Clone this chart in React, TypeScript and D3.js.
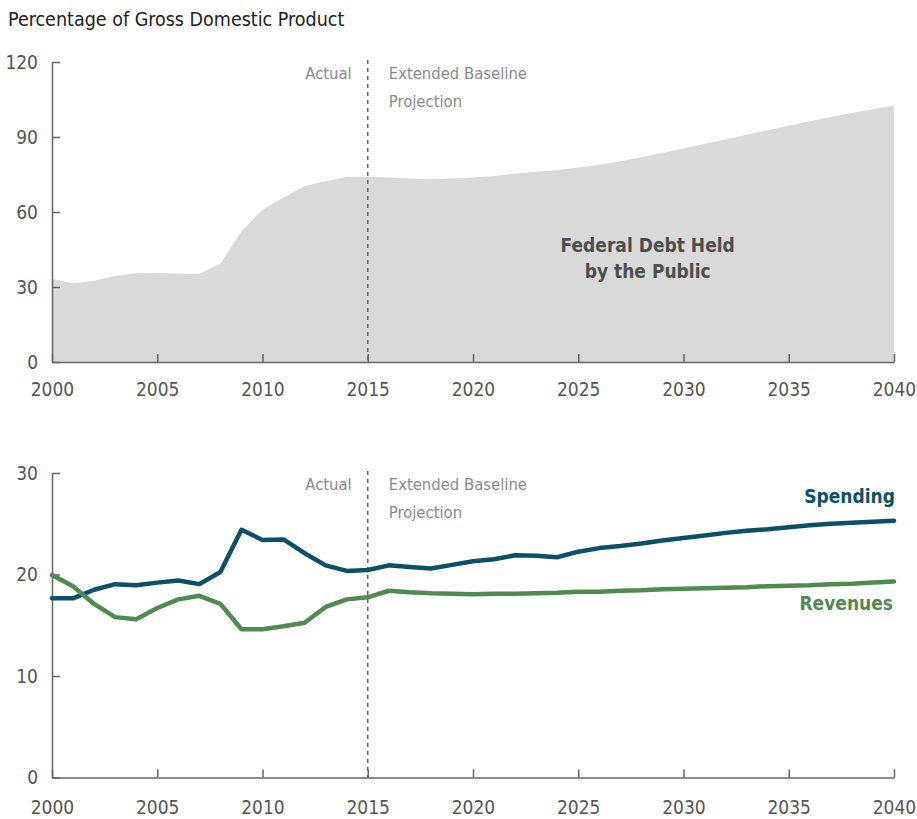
import React, { useEffect, useRef } from 'react';
import * as d3 from 'd3';

// Years shared by both panels
const years: number[] = d3.range(2000, 2041);

// Federal debt held by the public, % of GDP
const debt: number[] = [
  33.3, 31.4, 32.5, 34.4, 35.5, 35.6, 35.3, 35.2, 39.4, 52.3,
  60.9, 65.8, 70.4, 72.3, 74.1, 74.1, 73.8, 73.4, 73.1, 73.4,
  73.8, 74.4, 75.3, 76.1, 76.8, 77.8, 78.9, 80.3, 81.9, 83.6,
  85.4, 87.2, 89.0, 90.9, 92.7, 94.5, 96.3, 98.0, 99.6, 101.1,
  102.5,
];

// Outlays, % of GDP
const spending: number[] = [
  17.65, 17.65, 18.5, 19.05, 18.95, 19.2, 19.4, 19.05, 20.25, 24.4,
  23.4, 23.45, 22.1, 20.9, 20.35, 20.45, 20.9, 20.75, 20.6, 20.95,
  21.3, 21.5, 21.9, 21.85, 21.7, 22.25, 22.6, 22.8, 23.05, 23.35,
  23.6, 23.85, 24.1, 24.3, 24.45, 24.65, 24.85, 25.0, 25.1, 25.2,
  25.3,
];

// Revenues, % of GDP
const revenues: number[] = [
  19.95, 18.85, 17.1, 15.8, 15.6, 16.7, 17.55, 17.9, 17.1, 14.6,
  14.6, 14.9, 15.25, 16.8, 17.55, 17.75, 18.4, 18.25, 18.15, 18.1,
  18.05, 18.1, 18.1, 18.15, 18.2, 18.3, 18.3, 18.4, 18.45, 18.55,
  18.6, 18.65, 18.7, 18.75, 18.85, 18.9, 18.95, 19.05, 19.1, 19.2,
  19.3,
];

const xTicks: number[] = [2000, 2005, 2010, 2015, 2020, 2025, 2030, 2035, 2040];
const debtTicks: number[] = [0, 30, 60, 90, 120];
const budgetTicks: number[] = [0, 10, 20, 30];
const splitYear = 2015;

const FONT = "'DejaVu Sans Condensed', 'DejaVu Sans', sans-serif";
const AXIS = '#666';

const App: React.FC = () => {
  const svgRef = useRef<SVGSVGElement>(null);

  useEffect(() => {
    if (!svgRef.current) return;
    const svg = d3.select(svgRef.current);
    svg.selectAll('*').remove();

    const width = 917;
    const height = 819;
    svg.attr('width', width).attr('height', height).style('font-family', FONT);

    const x = d3.scaleLinear().domain([2000, 2040]).range([52, 894]);
    const yTop = d3.scaleLinear().domain([0, 120]).range([362, 62]);
    const yBot = d3.scaleLinear().domain([0, 30]).range([777.5, 473]);

    // Title
    svg.append('text')
      .attr('x', 8)
      .attr('y', 26)
      .style('font-size', '19.5px')
      .style('fill', '#222')
      .text('Percentage of Gross Domestic Product');

    const styleAxis = (g: d3.Selection<SVGGElement, unknown, null, undefined>) => {
      g.select('.domain').attr('stroke', AXIS).attr('stroke-width', 1.5);
      g.selectAll('.tick line').attr('stroke', AXIS).attr('stroke-width', 1.5);
      g.selectAll('.tick text')
        .style('font-size', '19px')
        .style('font-family', FONT)
        .attr('fill', '#555');
    };

    const drawAxes = (y: d3.ScaleLinear<number, number>, yTicks: number[], labelPad: number) => {
      const [y0] = y.range();
      const gx = svg.append('g')
        .attr('transform', `translate(0,${y0})`)
        .call(d3.axisBottom(x).tickValues(xTicks).tickFormat(d3.format('d')).tickSize(-8).tickSizeOuter(0).tickPadding(labelPad));
      gx.call(styleAxis);

      const gy = svg.append('g')
        .attr('transform', `translate(${x(2000)},0)`)
        .call(d3.axisLeft(y).tickValues(yTicks).tickSize(-8).tickSizeOuter(0).tickPadding(14));
      gy.call(styleAxis);
    };

    const drawSplit = (y: d3.ScaleLinear<number, number>, labelY: number) => {
      const [y0, y1] = y.range();
      svg.append('line')
        .attr('x1', x(splitYear))
        .attr('x2', x(splitYear))
        .attr('y1', y1 - 2)
        .attr('y2', y0)
        .attr('stroke', AXIS)
        .attr('stroke-width', 1.5)
        .attr('stroke-dasharray', '4,4');

      svg.append('text')
        .attr('x', x(splitYear) - 16)
        .attr('y', labelY)
        .attr('text-anchor', 'end')
        .style('font-size', '16.5px')
        .style('fill', '#8a8a8a')
        .text('Actual');

      const proj = svg.append('text')
        .attr('y', labelY)
        .style('font-size', '16.5px')
        .style('fill', '#8a8a8a');
      proj.append('tspan').attr('x', x(splitYear) + 21).text('Extended Baseline');
      proj.append('tspan').attr('x', x(splitYear) + 21).attr('dy', 28).text('Projection');
    };

    // Top panel: debt area
    const area = d3.area<number>()
      .x((_, i) => x(years[i]))
      .y0(yTop(0))
      .y1(d => yTop(d));

    svg.append('path')
      .datum(debt)
      .attr('d', area)
      .attr('fill', '#d9d9d9');

    drawSplit(yTop, 79);
    drawAxes(yTop, debtTicks, 21);

    const debtLabel = svg.append('text')
      .attr('text-anchor', 'middle')
      .attr('y', 252)
      .style('font-size', '19px')
      .style('font-weight', 'bold')
      .style('fill', '#4d4d4d');
    debtLabel.append('tspan').attr('x', x(2028.3)).text('Federal Debt Held');
    debtLabel.append('tspan').attr('x', x(2028.3)).attr('dy', 26).text('by the Public');

    // Bottom panel: spending and revenues
    drawSplit(yBot, 490);
    drawAxes(yBot, budgetTicks, 23);

    const line = d3.line<number>()
      .x((_, i) => x(years[i]))
      .y(d => yBot(d));

    const series = [
      { name: 'Spending', values: spending, color: '#0b5069', labelY: 503, dx: 1 },
      { name: 'Revenues', values: revenues, color: '#4f8a4f', labelY: 610, dx: -1 },
    ];

    series.forEach(s => {
      svg.append('path')
        .datum(s.values)
        .attr('d', line)
        .attr('fill', 'none')
        .attr('stroke', s.color)
        .attr('stroke-width', 4.5)
        .attr('stroke-linejoin', 'round')
        .attr('stroke-linecap', 'round');

      svg.append('text')
        .attr('x', x(2040) + s.dx)
        .attr('y', s.labelY)
        .attr('text-anchor', 'end')
        .style('font-size', '19px')
        .style('font-weight', 'bold')
        .style('fill', s.color)
        .text(s.name);
    });
  }, []);

  return <svg ref={svgRef} style={{ position: 'absolute', left: 0, top: 0 }}></svg>;
};

export default App;
